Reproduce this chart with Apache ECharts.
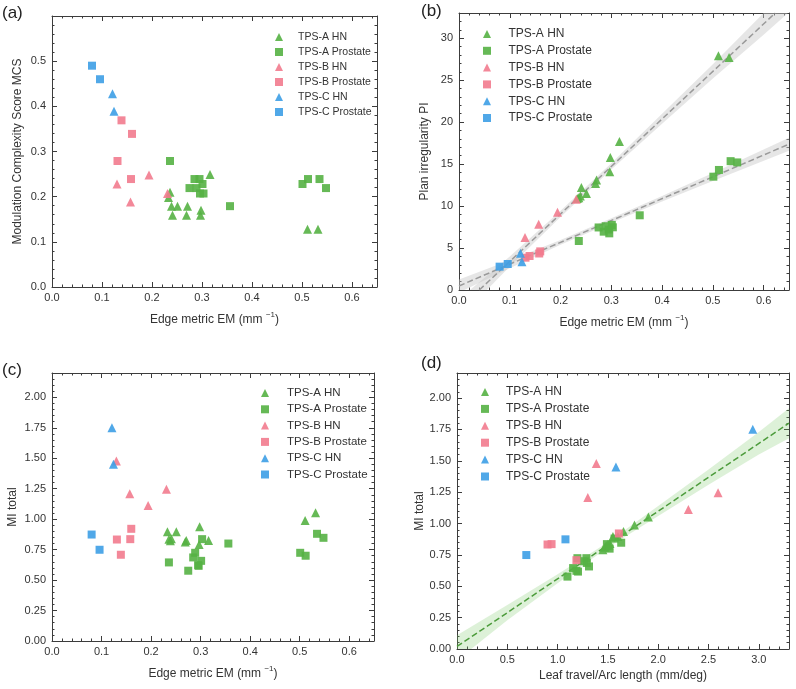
<!DOCTYPE html>
<html><head><meta charset="utf-8">
<script src="https://cdn.jsdelivr.net/npm/echarts@6/dist/echarts.min.js"></script>
<style>html,body{margin:0;padding:0;background:#fff}#c{width:796px;height:689px}</style>
</head><body><div id="c"></div>
<script>
// ---------- categories ----------
const groupNames = ['TPS-A HN','TPS-A Prostate','TPS-B HN','TPS-B Prostate','TPS-C HN','TPS-C Prostate'];
const groupSymbols = ['triangle','rect','triangle','rect','triangle','rect'];
const groupColors = ['#55b144','#55b144','#f27b8e','#f27b8e','#3d9fe5','#3d9fe5'];

// ---------- TPS-A HN ----------
const EM_AHN   = [0.233, 0.236, 0.239, 0.241, 0.251, 0.269, 0.271, 0.297, 0.298, 0.316, 0.511, 0.532];
const MCS_AHN  = [0.198, 0.210, 0.179, 0.159, 0.179, 0.159, 0.179, 0.159, 0.170, 0.249, 0.128, 0.128];
const PI_AHN   = [10.9, 11.0, 11.2, 12.2, 11.5, 12.7, 13.1, 14.1, 15.8, 17.7, 27.9, 27.7];
const MI_AHN   = [0.896, 0.835, 0.822, 0.840, 0.896, 0.812, 0.826, 0.792, 0.937, 0.825, 0.989, 1.052];
const LTAL_AHN = [1.55, 1.50, 1.48, 1.52, 1.60, 1.47, 1.51, 1.45, 1.655, 1.49, 1.764, 1.902];
// ---------- TPS-A Prostate ----------
const EM_AP   = [0.236, 0.275, 0.285, 0.289, 0.295, 0.296, 0.301, 0.303, 0.356, 0.501, 0.512, 0.535, 0.548];
const MCS_AP  = [0.279, 0.219, 0.239, 0.219, 0.239, 0.207, 0.228, 0.207, 0.179, 0.228, 0.239, 0.239, 0.219];
const PI_AP   = [5.84, 7.45, 6.95, 7.6, 7.2, 6.75, 7.75, 7.47, 8.9, 13.5, 14.3, 15.35, 15.2];
const MI_AP   = [0.645, 0.577, 0.686, 0.724, 0.623, 0.617, 0.658, 0.836, 0.800, 0.724, 0.700, 0.880, 0.847];
const LTAL_AP = [1.154, 1.098, 1.29, 1.286, 1.187, 1.203, 1.312, 1.49, 1.517, 1.197, 1.26, 1.566, 1.632];
// ---------- TPS-B HN ----------
const EM_BHN   = [0.130, 0.157, 0.194, 0.231];
const MCS_BHN  = [0.228, 0.188, 0.248, 0.207];
const PI_BHN   = [6.24, 7.83, 9.26, 10.8];
const MI_BHN   = [1.478, 1.208, 1.112, 1.246];
const LTAL_BHN = [1.385, 1.30, 2.30, 2.595];
// ---------- TPS-B Prostate ----------
const EM_BP   = [0.131, 0.139, 0.158, 0.160];
const MCS_BP  = [0.279, 0.369, 0.239, 0.339];
const PI_BP   = [3.85, 4.05, 4.35, 4.6];
const MI_BP   = [0.833, 0.708, 0.836, 0.921];
const LTAL_BP = [0.90, 1.187, 0.94, 1.609];
// ---------- TPS-C HN ----------
const EM_CHN   = [0.121, 0.124];
const MCS_CHN  = [0.428, 0.389];
const PI_CHN   = [4.37, 3.38];
const MI_CHN   = [1.751, 1.451];
const LTAL_CHN = [2.94, 1.58];
// ---------- TPS-C Prostate ----------
const EM_CP   = [0.080, 0.096];
const MCS_CP  = [0.490, 0.460];
const PI_CP   = [2.78, 3.10];
const MI_CP   = [0.874, 0.749];
const LTAL_CP = [1.078, 0.689];

// ---------- regression lines & confidence bands ----------
const fitB_HN = [[0.04, 0.0], [0.623, 33.0]];
const bandB_HN = [[0.0,-3.4,-1.1],[0.1,2.8,4.0],[0.2,8.7,9.45],[0.3,14.35,15.1],[0.4,19.8,21.0],[0.5,25.2,26.9],[0.6,30.4,33.0],[0.65,33.1,36.1]];
const fitB_P = [[0.0, 0.48], [0.65, 17.38]];
const bandB_P = [[0.0,-0.3,1.25],[0.1,2.6,3.55],[0.2,5.4,5.95],[0.3,8.0,8.55],[0.4,10.55,11.2],[0.5,13.0,13.95],[0.65,16.6,18.15]];
const fitD = [[0.0, 0.02], [3.3, 1.80]];
const bandD = [[0.0,-0.09,0.11],[0.5,0.23,0.35],[1.0,0.525,0.595],[1.5,0.81,0.85],[2.0,1.06,1.14],[2.5,1.31,1.43],[3.0,1.55,1.73],[3.3,1.68,1.92]];

// ---------- tick settings ----------
const xTicksEM = {min:0, max:0.65, interval:0.1, dec:1};
const xTicksLT = {min:0, max:3.3, interval:0.5, dec:1};
const yTicksMCS = {min:0, max:0.6, interval:0.1, dec:1};
const yTicksPI = {min:0, max:33, interval:5, dec:0};
const yTicksMI = {min:0, max:2.2, interval:0.25, dec:2};

const EM   = [EM_AHN, EM_AP, EM_BHN, EM_BP, EM_CHN, EM_CP];
const MCS  = [MCS_AHN, MCS_AP, MCS_BHN, MCS_BP, MCS_CHN, MCS_CP];
const PI   = [PI_AHN, PI_AP, PI_BHN, PI_BP, PI_CHN, PI_CP];
const MI   = [MI_AHN, MI_AP, MI_BHN, MI_BP, MI_CHN, MI_CP];
const LTAL = [LTAL_AHN, LTAL_AP, LTAL_BHN, LTAL_BP, LTAL_CHN, LTAL_CP];

const FONT = 'Liberation Sans, Arial, sans-serif';
const FRAME = '#3c3c3c';
const TXT = '#333';

const grids = [
  {left:52, top:16, width:325, height:271},
  {left:459, top:13, width:330, height:277},
  {left:52, top:373, width:322, height:268},
  {left:457, top:373, width:332, height:276}
];

function axisCommon(gi, t) {
  return {gridIndex:gi, type:'value', min:t.min, max:t.max, interval:t.interval,
    splitLine:{show:false},
    axisLine:{show:true, onZero:false, lineStyle:{color:FRAME, width:1}},
    axisTick:{show:true, inside:true, length:5, lineStyle:{color:FRAME}},
    minorTick:{show:true, splitNumber:5, length:2.5, lineStyle:{color:FRAME}}};
}
const richName = {
  n:{fontSize:12, color:TXT, fontFamily:FONT},
  s:{fontSize:8, color:TXT, fontFamily:FONT, padding:[0,0,10,0]}
};
const xAxes = [], yAxes = [];
function addX(gi, t, name, gap) {
  xAxes.push(Object.assign(axisCommon(gi,t), {position:'bottom', name:name, nameLocation:'middle', nameGap:gap,
    nameTextStyle:{fontSize:12, color:TXT, fontFamily:FONT, rich:richName},
    axisLabel:{show:true, color:TXT, fontSize:11, fontFamily:FONT, margin:5, showMaxLabel:false,
      formatter:v=>v.toFixed(t.dec)}}));
  xAxes.push(Object.assign(axisCommon(gi,t), {position:'top', axisLabel:{show:false}}));
}
function addY(gi, t, name, gap) {
  yAxes.push(Object.assign(axisCommon(gi,t), {position:'left', name:name, nameLocation:'middle', nameGap:gap,
    nameTextStyle:{fontSize:12, color:TXT, fontFamily:FONT},
    axisLabel:{show:true, color:TXT, fontSize:11, fontFamily:FONT, margin:6, showMaxLabel:false,
      formatter:v=>v.toFixed(t.dec)}}));
  yAxes.push(Object.assign(axisCommon(gi,t), {position:'right', axisLabel:{show:false}}));
}
const emName = '{n|Edge metric EM (mm }{s|\u22121}{n|)}';
addX(0, xTicksEM, emName, 24); addY(0, yTicksMCS, 'Modulation Complexity Score MCS', 28);
addX(1, xTicksEM, emName, 24); addY(1, yTicksPI, 'Plan irregularity PI', 28);
addX(2, xTicksEM, emName, 24); addY(2, yTicksMI, 'MI total', 33);
addX(3, xTicksLT, 'Leaf travel/Arc length (mm/deg)', 21); addY(3, yTicksMI, 'MI total', 30);

const series = [];
function bandSeries(band, p, color) {
  return {type:'custom', name:'band'+p+series.length, xAxisIndex:2*p, yAxisIndex:2*p, silent:true, z:1, clip:true,
    data: band, encode:{x:0, y:[1,2]},
    renderItem:function(params, api){
      if (params.dataIndex !== 0) return;
      const pts = [];
      for (let i=0;i<band.length;i++) pts.push(api.coord([band[i][0], band[i][2]]));
      for (let i=band.length-1;i>=0;i--) pts.push(api.coord([band[i][0], band[i][1]]));
      const cs = params.coordSys;
      return {type:'polygon', shape:{points:pts}, style:{fill:color},
        clipPath:{type:'rect', shape:{x:cs.x, y:cs.y, width:cs.width, height:cs.height}}};
    }};
}
function fitSeries(fit, p, color) {
  return {type:'line', name:'fit'+p+series.length, xAxisIndex:2*p, yAxisIndex:2*p, data:fit, symbol:'none', silent:true, z:2,
    clip:true, lineStyle:{color:color, width:1.5, type:[6,3]}};
}
series.push(bandSeries(bandB_HN, 1, 'rgba(200,200,200,0.45)'));
series.push(bandSeries(bandB_P, 1, 'rgba(200,200,200,0.45)'));
series.push(fitSeries(fitB_HN, 1, '#9a9a9a'));
series.push(fitSeries(fitB_P, 1, '#9a9a9a'));
series.push(bandSeries(bandD, 3, 'rgba(120,200,100,0.25)'));
series.push(fitSeries(fitD, 3, '#4d9c3c'));

const panels = [[EM, MCS], [EM, PI], [EM, MI], [LTAL, MI]];
panels.forEach((pr, p) => {
  for (let g=0; g<6; g++) {
    const xs = pr[0][g], ys = pr[1][g];
    series.push({type:'scatter', name:groupNames[g], xAxisIndex:2*p, yAxisIndex:2*p, z:3,
      symbol:groupSymbols[g], symbolSize: groupSymbols[g]==='rect' ? 8 : 9,
      itemStyle:{color:groupColors[g], opacity:0.9},
      data: xs.map((x,i)=>[x, ys[i]])});
  }
});

function legendFor(left, top, padL, gap, fs) {
  return {orient:'vertical', left:left, top:top, itemWidth:8, itemHeight:8, itemGap:gap, selectedMode:false,
    data: groupNames.map((n,i)=>({name:n, icon:groupSymbols[i]})),
    textStyle:{fontSize:fs, color:TXT, fontFamily:FONT, lineHeight:12, padding:[0,0,0,padL]}};
}
const legends = [
  legendFor(270, 26, 10, 3, 10.5),
  legendFor(478, 23, 12.5, 4.8, 12),
  legendFor(256, 382, 13, 4.3, 11.5),
  legendFor(476, 381, 12, 4.9, 12)
];

function label(t, x, y) {
  return {type:'text', left:x, top:y, style:{text:t, font:'17px '+FONT, fill:'#222'}};
}

const chart = echarts.init(document.getElementById('c'), null, {renderer:'canvas'});
chart.setOption({
  animation:false, backgroundColor:'#fff',
  grid: grids, xAxis: xAxes, yAxis: yAxes, legend: legends, series: series,
  graphic: [label('(a)', 2, 5), label('(b)', 421, 3), label('(c)', 2, 362), label('(d)', 421, 355)]
});
</script></body></html>
